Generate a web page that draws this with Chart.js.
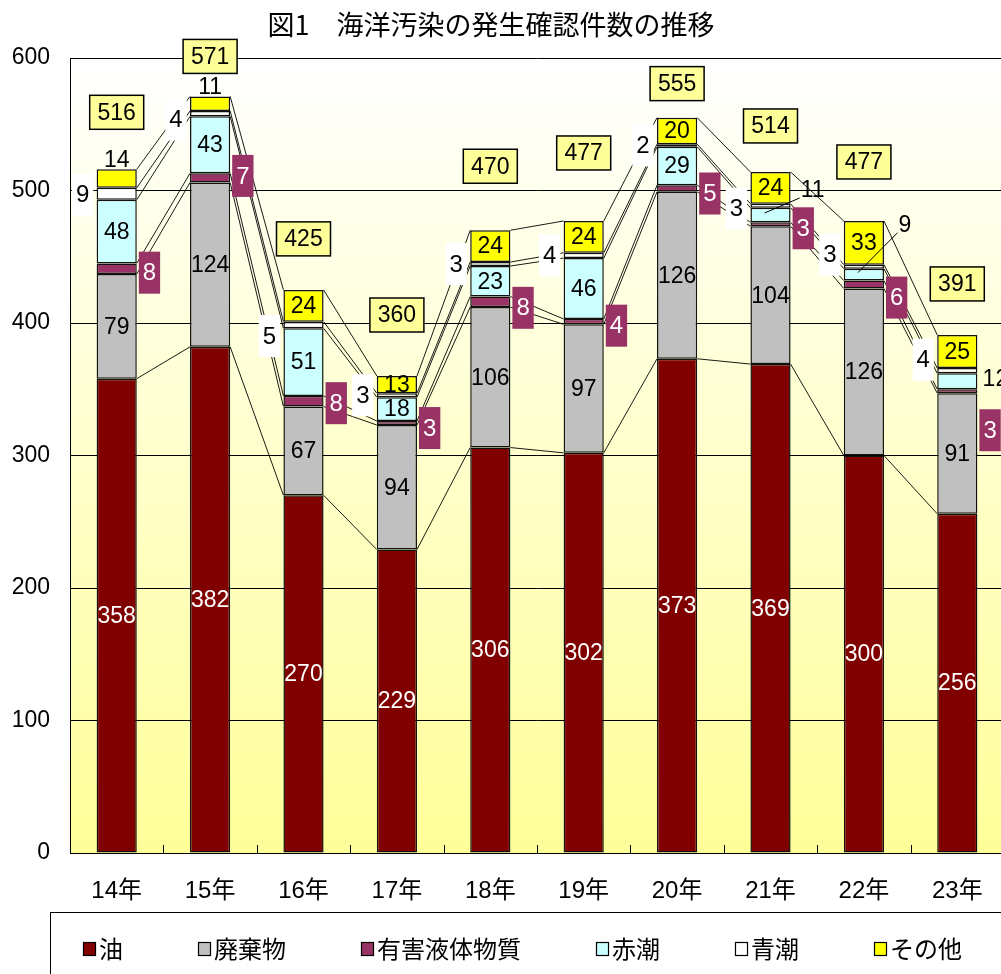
<!DOCTYPE html>
<html><head><meta charset="utf-8">
<script src="https://cdn.jsdelivr.net/npm/chart.js@4.4.1/dist/chart.umd.min.js"></script>
<style>
html,body{margin:0;padding:0;background:#fff;overflow:hidden;}
#wrap{position:relative;width:1008px;height:974px;}
</style></head><body><div id="wrap"><canvas id="c"></canvas></div>
<script>
// ---- data ----
const categories = ['14年','15年','16年','17年','18年','19年','20年','21年','22年','23年'];
const oil       = [358,382,270,229,306,302,373,369,300,256];
const waste     = [79,124,67,94,106,97,126,104,126,91];
const noxious   = [8,7,8,3,8,4,5,3,6,3];
const redTide   = [48,43,51,18,23,46,29,11,9,12];
const blueTide  = [9,4,5,3,3,4,2,3,3,4];
const others    = [14,11,24,13,24,24,20,24,33,25];
const totals    = [516,571,425,360,470,477,555,514,477,391];
const yTicks    = [0,100,200,300,400,500,600];
const seriesNames = ['油','廃棄物','有害液体物質','赤潮','青潮','その他'];
const titleText = '図1　海洋汚染の発生確認件数の推移';

// ---- styles / label layout ----
const seriesColors = ['#800000','#C0C0C0','#993366','#CCFFFF','#FFFFFF','#FFFF00'];
const NUM_FONT = "'Liberation Sans','Noto Sans CJK JP',sans-serif";
const JP_FONT = "'Noto Sans CJK JP',sans-serif";
const totalLabelLift = [57,40,51,61,64,68,34,46,59,51];
const noxiousLabelDy = [4,-2,2,5,6,4,5,4,13,39];
const blueTideLabelDy = [1,6,11,0,0,0,0,3,-12,-11];
const redTideOutside = {7:[22,-25,true], 8:[21,-50,true], 9:[18,-3,false]};
const othersAbove = [0,1];

const seriesValues = [oil,waste,noxious,redTide,blueTide,others];

const bgPlugin = {
  id:'bg',
  beforeDraw(chart){
    const {ctx, chartArea:a} = chart;
    const g = ctx.createLinearGradient(0,a.top,0,a.bottom);
    g.addColorStop(0,'#FFFFFF');
    g.addColorStop(1,'#FFFF99');
    ctx.save(); ctx.fillStyle=g;
    ctx.fillRect(a.left,a.top,a.right-a.left,a.bottom-a.top);
    ctx.restore();
  }
};

function boxLabel(ctx, text, cx, cy, fill, stroke, color, h){
  ctx.font = '24px ' + NUM_FONT;
  const w = ctx.measureText(text).width + 8;
  ctx.fillStyle = fill;
  ctx.fillRect(cx - w/2, cy - h/2, w, h);
  if (stroke){ ctx.strokeStyle = stroke; ctx.lineWidth = 1.5; ctx.strokeRect(cx - w/2, cy - h/2, w, h); }
  ctx.fillStyle = color; ctx.textAlign='center'; ctx.textBaseline='middle';
  ctx.fillText(text, cx, cy + 1);
}
function plainLabel(ctx, text, cx, cy, color){
  ctx.font = '23px ' + NUM_FONT;
  ctx.fillStyle = color; ctx.textAlign='center'; ctx.textBaseline='middle';
  ctx.fillText(text, cx, cy + 1);
}

const decoPlugin = {
  id:'deco',
  afterDatasetsDraw(chart){
    const ctx = chart.ctx, a = chart.chartArea;
    ctx.save();
    // small category ticks on x axis
    ctx.strokeStyle = '#000'; ctx.lineWidth = 1;
    const step = (a.right - a.left)/categories.length;
    for (let i=1;i<categories.length;i++){
      const x = Math.round(a.left + i*step) + 0.5;
      ctx.beginPath(); ctx.moveTo(x, a.bottom); ctx.lineTo(x, a.bottom - 8); ctx.stroke();
    }
    // series lines
    ctx.strokeStyle = '#000'; ctx.lineWidth = 0.9;
    chart.data.datasets.forEach((ds, di) => {
      const els = chart.getDatasetMeta(di).data;
      for (let k=0;k<els.length-1;k++){
        const p = els[k].getProps(['x','y','width'], true);
        const q = els[k+1].getProps(['x','y','width'], true);
        ctx.beginPath();
        ctx.moveTo(p.x + p.width/2, p.y);
        ctx.lineTo(q.x - q.width/2, q.y);
        ctx.stroke();
      }
    });
    // data labels
    chart.data.datasets.forEach((ds, di) => {
      const els = chart.getDatasetMeta(di).data;
      els.forEach((el, k) => {
        const p = el.getProps(['x','y','base','width'], true);
        const cy = (p.y + p.base)/2;
        const v = String(ds.data[k]);
        const left = p.x - p.width/2, right = p.x + p.width/2;
        if (di === 0) plainLabel(ctx, v, p.x, cy, '#FFFFFF');
        else if (di === 1) plainLabel(ctx, v, p.x, cy, '#000');
        else if (di === 2) {
          ctx.font = '24px ' + NUM_FONT;
          const w = ctx.measureText(v).width + 8;
          boxLabel(ctx, v, right + 2 + w/2, cy + noxiousLabelDy[k], '#993366', null, '#FFFFFF', 42);
        } else if (di === 3) {
          const o = redTideOutside[k];
          if (o){
            const lx = right + o[0], ly = cy + o[1];
            if (o[2]){
              ctx.strokeStyle='#000'; ctx.lineWidth=1;
              ctx.beginPath(); ctx.moveTo(p.x - 6, cy - 2);
              ctx.font = '23px ' + NUM_FONT;
              const tw = ctx.measureText(v).width;
              ctx.lineTo(lx - tw/2 - 1, ly + 8); ctx.stroke();
            }
            plainLabel(ctx, v, lx, ly, '#000');
          } else plainLabel(ctx, v, p.x, cy, '#000');
        } else if (di === 4) {
          boxLabel(ctx, v, left - 14, cy + blueTideLabelDy[k], '#FFFFFF', null, '#000', 42);
        } else if (di === 5) {
          if (othersAbove.includes(k)) plainLabel(ctx, v, p.x, p.y - 10, '#000');
          else plainLabel(ctx, v, p.x, cy, '#000');
        }
      });
    });
    // totals
    const topMeta = chart.getDatasetMeta(chart.data.datasets.length - 1).data;
    totals.forEach((t, k) => {
      const p = topMeta[k].getProps(['x','y'], true);
      ctx.font = '23px ' + NUM_FONT;
      const w = 54, h = 34;
      const cx = p.x, cy = p.y - totalLabelLift[k];
      ctx.fillStyle = '#FFFF99'; ctx.fillRect(cx-w/2, cy-h/2, w, h);
      ctx.strokeStyle = '#000'; ctx.lineWidth = 1.5; ctx.strokeRect(cx-w/2, cy-h/2, w, h);
      ctx.fillStyle = '#000'; ctx.textAlign='center'; ctx.textBaseline='middle';
      ctx.fillText(String(t), cx, cy + 1);
    });
    ctx.restore();
  },
  afterDraw(chart){
    const ctx = chart.ctx;
    ctx.save();
    // title
    ctx.font = '27px ' + JP_FONT;
    ctx.fillStyle = '#000'; ctx.textAlign = 'center'; ctx.textBaseline = 'middle';
    ctx.fillText(titleText, 491, 25);
    // legend box
    ctx.fillStyle = '#FFFFFF';
    ctx.fillRect(50.5, 912.5, 1000, 80);
    ctx.strokeStyle = '#000'; ctx.lineWidth = 1;
    ctx.strokeRect(50.5, 912.5, 1000, 80);
    let x = 83;
    const ly = 949;
    ctx.font = '24px ' + JP_FONT;
    chart.data.datasets.forEach((ds) => {
      ctx.fillStyle = ds.backgroundColor;
      ctx.fillRect(x, ly - 7, 13, 14);
      ctx.strokeStyle = '#000'; ctx.lineWidth = 1.2;
      ctx.strokeRect(x + 0.5, ly - 6.5, 12, 13);
      ctx.fillStyle = '#000'; ctx.textAlign = 'left'; ctx.textBaseline = 'middle';
      ctx.fillText(ds.label, x + 16, ly);
      x += 16 + ctx.measureText(ds.label).width + 75;
    });
    ctx.restore();
  }
};

new Chart(document.getElementById('c'), {
  type: 'bar',
  data: {
    labels: categories,
    datasets: seriesNames.map((name, i) => ({
      label: name,
      data: seriesValues[i],
      backgroundColor: seriesColors[i],
      borderColor: '#111',
      borderWidth: 1.5,
      borderSkipped: false,
      barPercentage: 0.43,
      categoryPercentage: 1
    }))
  },
  options: {
    responsive: true,
    maintainAspectRatio: false,
    animation: false,
    devicePixelRatio: 1,
    layout: { padding: { top: 58, right: 4, left: 0, bottom: 0 } },
    plugins: { legend: { display: false }, title: { display: false }, tooltip: { enabled: false } },
    scales: {
      x: {
        stacked: true,
        grid: { display: false, drawTicks: false },
        border: { display: true, color: '#000', width: 1 },
        ticks: { color: '#000', font: { size: 24, family: NUM_FONT }, padding: 24 },
        afterFit(s){ s.height = 121; }
      },
      y: {
        stacked: true,
        min: 0, max: 600,
        afterBuildTicks(s){ s.ticks = yTicks.map(v => ({value: v})); },
        grid: { color: '#000', lineWidth: 1, drawTicks: false },
        border: { display: true, color: '#000', width: 1 },
        ticks: { color: '#000', font: { size: 23, family: NUM_FONT }, padding: 20 },
        afterFit(s){ s.width = 70; }
      }
    }
  },
  plugins: [bgPlugin, decoPlugin]
});
</script></body></html>
